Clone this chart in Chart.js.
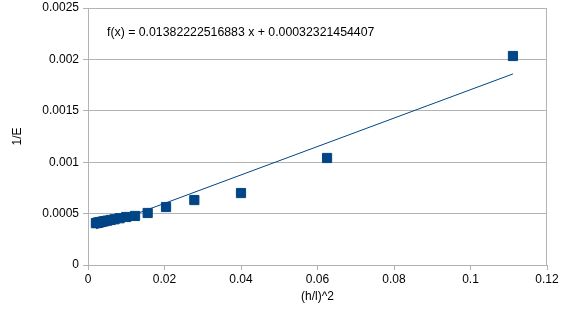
<!DOCTYPE html>
<html>
<head>
<meta charset="utf-8">
<script src="https://cdn.jsdelivr.net/npm/chart.js@4/dist/chart.umd.min.js"></script>
<style>
  html, body { margin: 0; padding: 0; background: #fff; }
  #wrap { width: 567px; height: 325px; }
</style>
</head>
<body>
<div id="wrap"><canvas id="c" width="567" height="325"></canvas></div>
<script>
// Data: x = (h/l)^2, y = 1/E
const xValues = [0.1111, 0.0625, 0.04, 0.0278, 0.0204, 0.0156, 0.0123, 0.01,
                 0.00826, 0.00694, 0.00592, 0.0051, 0.00444, 0.0039, 0.00346,
                 0.00309, 0.00277, 0.0025, 0.00227, 0.00207];
const yValues = [0.002033, 0.001041, 0.000700, 0.000632, 0.000564, 0.000506, 0.000477, 0.000467,
                 0.000455, 0.000445, 0.000438, 0.000432, 0.000427, 0.000423, 0.000419,
                 0.000416, 0.000413, 0.000411, 0.000409, 0.000407];
const slope = 0.01382222516883;
const intercept = 0.00032321454407;
const equationText = 'f(x) = 0.01382222516883 x + 0.00032321454407';
const xTitle = '(h/l)^2';
const yTitle = '1/E';

const points = xValues.map((x, i) => ({ x: x, y: yValues[i] }));
const xMin = Math.min(...xValues), xMax = Math.max(...xValues);
const trend = [{ x: xMin, y: slope * xMin + intercept }, { x: xMax, y: slope * xMax + intercept }];

const BLUE = '#004586';
const FONT = 'Liberation Sans, Arial, sans-serif';

const eqPlugin = {
  id: 'eq',
  afterDatasetsDraw(chart) {
    const ctx = chart.ctx;
    ctx.save();
    ctx.font = '12.3px ' + FONT;
    ctx.fillStyle = '#000';
    ctx.textBaseline = 'middle';
    ctx.textAlign = 'left';
    ctx.fillText(equationText, 107, 33);
    ctx.restore();
  }
};

const borderPlugin = {
  id: 'border',
  beforeDatasetsDraw(chart) {
    const a = chart.chartArea, ctx = chart.ctx;
    ctx.save();
    ctx.strokeStyle = '#b3b3b3';
    ctx.lineWidth = 1;
    ctx.beginPath();
    ctx.moveTo(a.left + 0.5, a.top + 0.5);
    ctx.lineTo(a.right - 0.5, a.top + 0.5);
    ctx.lineTo(a.right - 0.5, a.bottom);
    ctx.stroke();
    ctx.restore();
  }
};

new Chart(document.getElementById('c'), {
  type: 'scatter',
  data: {
    datasets: [
      {
        type: 'line',
        data: trend,
        borderColor: BLUE,
        borderWidth: 1,
        pointRadius: 0,
        fill: false,
        order: 2
      },
      {
        data: points,
        pointStyle: 'rect',
        pointRadius: 6.5,
        pointHoverRadius: 6.5,
        backgroundColor: BLUE,
        borderColor: BLUE,
        borderWidth: 1,
        order: 1
      }
    ]
  },
  options: {
    responsive: false,
    animation: false,
    events: [],
    layout: { padding: { top: 8, right: 20, left: 0, bottom: 20 } },
    plugins: { legend: { display: false }, tooltip: { enabled: false } },
    scales: {
      x: {
        type: 'linear',
        min: 0, max: 0.12,
        ticks: {
          stepSize: 0.02,
          color: '#000',
          font: { family: FONT, size: 12 },
          padding: 2,
          callback: v => String(+v.toFixed(4))
        },
        grid: { drawOnChartArea: false, drawTicks: true, tickLength: 5, color: '#b3b3b3' },
        border: { color: '#b3b3b3' },
        title: { display: true, text: xTitle, color: '#000', font: { family: FONT, size: 12 }, padding: { top: 0, bottom: 1 } },
        afterFit: s => { s.height = 40; s.paddingLeft = 0; s.paddingRight = 0; }
      },
      y: {
        type: 'linear',
        min: 0, max: 0.0025,
        ticks: {
          stepSize: 0.0005,
          color: '#000',
          font: { family: FONT, size: 12 },
          padding: 4,
          callback: v => String(+v.toFixed(5))
        },
        grid: { color: '#b3b3b3', tickLength: 5 },
        border: { color: '#b3b3b3' },
        title: { display: true, text: yTitle, color: '#000', font: { family: FONT, size: 12 }, padding: { top: 10, bottom: 0 } },
        afterFit: s => { s.width = 88; s.paddingTop = 0; s.paddingBottom = 0; }
      }
    }
  },
  plugins: [borderPlugin, eqPlugin]
});
</script>
</body>
</html>
